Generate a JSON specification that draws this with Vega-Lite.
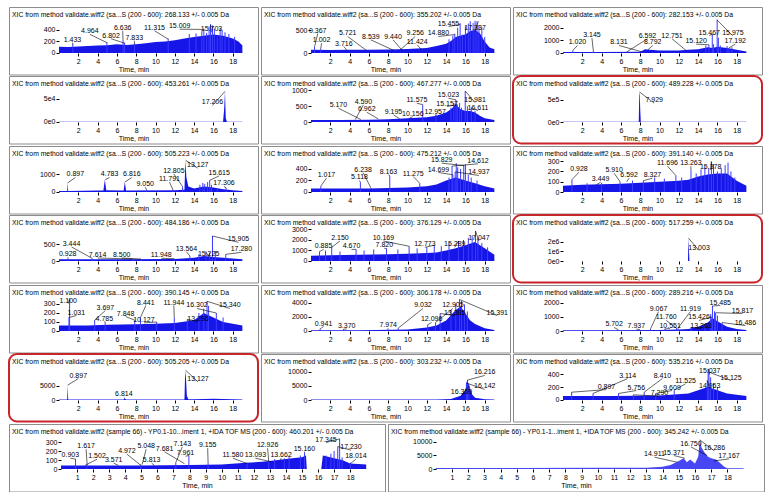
{
"$schema":"https://vega.github.io/schema/vega-lite/v6.json",
"background":"white",
"padding":{"left":8,"top":6,"right":0,"bottom":0},
"autosize":{"type":"pad"},
"config":{"font":"Liberation Sans","view":{"stroke":"#8c8c8c","strokeWidth":1},
"title":{"fontSize":6.8,"fontWeight":"normal","anchor":"start","frame":"group","offset":-12,"dx":3,"color":"black","baseline":"bottom"},
"axisX":{"domain":false,"grid":false,"tickSize":3,"tickColor":"black","labelFontSize":7,"labelColor":"black","labelPadding":1,"titleFontSize":7,"titleFontWeight":"normal","titleColor":"black","titlePadding":1,"offset":-21.5,"labelOverlap":false,"labelFlush":false},
"axisY":{"domain":false,"grid":false,"tickSize":3,"tickColor":"black","labelFontSize":7,"labelColor":"black","labelPadding":1,"offset":-50,"labelOverlap":false,"labelFlush":false},
"text":{"fontSize":7,"color":"black"},"rule":{"color":"black"}},
"spacing":0,
"vconcat":[
{"hconcat":[
{"width":249,"height":67.5,"title":"XIC from method  validate.wiff2 (sa...S (200 - 600): 268.133 +/- 0.005 Da",
"data":{"values":[{"k":"b","t":0,"v":110},{"k":"b","t":1,"v":105},{"k":"b","t":2,"v":115},{"k":"b","t":3,"v":120},{"k":"b","t":4,"v":130},{"k":"b","t":5,"v":135},{"k":"b","t":6,"v":150},{"k":"b","t":7,"v":140},{"k":"b","t":8,"v":150},{"k":"b","t":9,"v":170},{"k":"b","t":10,"v":190},{"k":"b","t":11,"v":200},{"k":"b","t":12,"v":220},{"k":"b","t":13,"v":250},{"k":"b","t":14,"v":280},{"k":"b","t":15,"v":300},{"k":"b","t":16,"v":320},{"k":"b","t":17,"v":300},{"k":"b","t":18,"v":250},{"k":"b","t":18.6,"v":200},{"k":"b","t":19,"v":130},
{"k":"s","t":1.433,"v":160},{"k":"s","t":4.964,"v":190},{"k":"s","t":6.636,"v":230},{"k":"s","t":6.802,"v":180},{"k":"s","t":7.833,"v":170},{"k":"s","t":11.315,"v":250},{"k":"s","t":13.5,"v":330},{"k":"s","t":14.2,"v":340},{"k":"s","t":14.8,"v":380},{"k":"s","t":15.009,"v":420},{"k":"s","t":15.3,"v":350},{"k":"s","t":15.55,"v":460},{"k":"s","t":15.703,"v":500},{"k":"s","t":15.9,"v":480},{"k":"s","t":16.1,"v":420},{"k":"s","t":16.4,"v":300},{"k":"s","t":16.7,"v":430},{"k":"s","t":16.9,"v":400},{"k":"s","t":17.2,"v":360},{"k":"s","t":17.6,"v":330},{"k":"s","t":18.2,"v":280},
{"k":"l","s":"1.433","t":1.433,"v":150,"lt":1.4,"lv":180},{"k":"l","s":"4.964","t":4.964,"v":180,"lt":3.2,"lv":325},{"k":"l","s":"6.636","t":6.636,"v":230,"lt":6.6,"lv":387},{"k":"l","s":"6.802","t":6.802,"v":170,"lt":5.4,"lv":248},{"k":"l","s":"7.833","t":7.833,"v":160,"lt":7.8,"lv":214},{"k":"l","s":"11.315","t":11.315,"v":240,"lt":9.9,"lv":387},{"k":"l","s":"15.009","t":15.009,"v":410,"lt":12.5,"lv":414},{"k":"l","s":"15.703","t":15.703,"v":490,"lt":15.8,"lv":359}]},
"encoding":{"x":{"field":"t","type":"quantitative","scale":{"domain":[-5.18,20.62]},"axis":{"values":[2,4,6,8,10,12,14,16,18],"title":"Time, min"}},"y":{"field":"v","type":"quantitative","scale":{"domain":[-374,800]},"axis":{"values":[0,200,400],"format":"d","title":null}}},
"layer":[
{"transform":[{"filter":"datum.k=='b'"}],"mark":{"type":"area","color":"#1616e8"},"encoding":{"y2":{"datum":0}}},
{"transform":[{"filter":"datum.k=='s'"}],"mark":{"type":"rule","color":"#3b3bff"},"encoding":{"y2":{"datum":0}}},
{"transform":[{"filter":"datum.k=='l'"}],"mark":{"type":"rule","strokeWidth":0.6},"encoding":{"x2":{"field":"lt"},"y2":{"field":"lv"}}},
{"transform":[{"filter":"datum.k=='l'"}],"mark":{"type":"text","baseline":"bottom"},"encoding":{"x":{"field":"lt","type":"quantitative"},"y":{"field":"lv","type":"quantitative"},"text":{"field":"s"}}},
{"data":{"values":[{}]},"mark":{"type":"rule","strokeDash":[1,1]},"encoding":{"x":{"datum":0},"y":{"datum":0},"y2":{"datum":480}}},
{"data":{"values":[{}]},"mark":{"type":"point","shape":"triangle-right","filled":true,"color":"#0000d0","size":20,"opacity":1},"encoding":{"x":{"datum":0},"y":{"datum":0}}}]},
{"width":249,"height":67.5,"title":"XIC from method  validate.wiff2 (sa...S (200 - 600): 355.202 +/- 0.005 Da",
"data":{"values":[{"k":"b","t":0,"v":70},{"k":"b","t":2,"v":65},{"k":"b","t":4,"v":70},{"k":"b","t":6,"v":70},{"k":"b","t":8,"v":75},{"k":"b","t":10,"v":85},{"k":"b","t":12,"v":110},{"k":"b","t":13,"v":150},{"k":"b","t":14,"v":200},{"k":"b","t":14.5,"v":260},{"k":"b","t":15,"v":350},{"k":"b","t":15.5,"v":380},{"k":"b","t":16,"v":400},{"k":"b","t":16.5,"v":480},{"k":"b","t":17,"v":500},{"k":"b","t":17.5,"v":430},{"k":"b","t":18,"v":250},{"k":"b","t":18.5,"v":120},{"k":"b","t":19,"v":80},
{"k":"s","t":0.367,"v":130},{"k":"s","t":1.002,"v":90},{"k":"s","t":14.3,"v":300},{"k":"s","t":14.7,"v":380},{"k":"s","t":14.9,"v":420},{"k":"s","t":15.2,"v":550},{"k":"s","t":15.455,"v":650},{"k":"s","t":15.7,"v":400},{"k":"s","t":16.0,"v":580},{"k":"s","t":16.3,"v":640},{"k":"s","t":16.5,"v":690},{"k":"s","t":16.8,"v":650},{"k":"s","t":17.0,"v":700},{"k":"s","t":17.2,"v":690},{"k":"s","t":17.4,"v":600},{"k":"s","t":17.7,"v":560},{"k":"s","t":18.0,"v":350},
{"k":"l","s":"0.367","t":0.367,"v":130,"lt":0.7,"lv":424},{"k":"l","s":"1.002","t":1.002,"v":90,"lt":1.1,"lv":214},{"k":"l","s":"3.716","t":3.716,"v":60,"lt":3.4,"lv":141},{"k":"l","s":"5.721","t":5.721,"v":60,"lt":3.8,"lv":359},{"k":"l","s":"8.539","t":8.539,"v":60,"lt":6.2,"lv":286},{"k":"l","s":"9.440","t":9.44,"v":60,"lt":8.5,"lv":286},{"k":"l","s":"9.256","t":9.256,"v":70,"lt":10.8,"lv":359},{"k":"l","s":"11.424","t":11.424,"v":80,"lt":11.0,"lv":178},{"k":"l","s":"14.880","t":14.88,"v":400,"lt":13.2,"lv":359},{"k":"l","s":"15.455","t":15.455,"v":620,"lt":14.25,"lv":576},{"k":"l","s":"17.337","t":17.337,"v":690,"lt":17.0,"lv":468}]},
"encoding":{"x":{"field":"t","type":"quantitative","scale":{"domain":[-5.18,20.62]},"axis":{"values":[2,4,6,8,10,12,14,16,18],"title":"Time, min"}},"y":{"field":"v","type":"quantitative","scale":{"domain":[-467,1000]},"axis":{"values":[0,500],"format":"d","title":null}}},
"layer":[
{"transform":[{"filter":"datum.k=='b'"}],"mark":{"type":"area","color":"#1616e8"},"encoding":{"y2":{"datum":0}}},
{"transform":[{"filter":"datum.k=='s'"}],"mark":{"type":"rule","color":"#3b3bff"},"encoding":{"y2":{"datum":0}}},
{"transform":[{"filter":"datum.k=='l'"}],"mark":{"type":"rule","strokeWidth":0.6},"encoding":{"x2":{"field":"lt"},"y2":{"field":"lv"}}},
{"transform":[{"filter":"datum.k=='l'"}],"mark":{"type":"text","baseline":"bottom"},"encoding":{"x":{"field":"lt","type":"quantitative"},"y":{"field":"lv","type":"quantitative"},"text":{"field":"s"}}},
{"data":{"values":[{}]},"mark":{"type":"rule","strokeDash":[1,1]},"encoding":{"x":{"datum":0},"y":{"datum":0},"y2":{"datum":700}}},
{"data":{"values":[{}]},"mark":{"type":"point","shape":"triangle-right","filled":true,"color":"#0000d0","size":20,"opacity":1},"encoding":{"x":{"datum":0},"y":{"datum":0}}}]},
{"width":249,"height":67.5,"title":"XIC from method  validate.wiff2 (sa...S (200 - 600): 282.153 +/- 0.005 Da",
"data":{"values":[{"k":"b","t":0,"v":80},{"k":"b","t":4,"v":80},{"k":"b","t":8,"v":100},{"k":"b","t":8.5,"v":300},{"k":"b","t":9,"v":250},{"k":"b","t":10,"v":200},{"k":"b","t":12,"v":200},{"k":"b","t":13,"v":250},{"k":"b","t":14,"v":300},{"k":"b","t":15,"v":450},{"k":"b","t":15.5,"v":400},{"k":"b","t":16,"v":500},{"k":"b","t":17,"v":400},{"k":"b","t":18,"v":250},{"k":"b","t":19,"v":120},
{"k":"s","t":1.02,"v":200},{"k":"s","t":3.145,"v":150},{"k":"s","t":14.8,"v":600},{"k":"s","t":15.12,"v":650},{"k":"s","t":15.467,"v":1500},{"k":"s","t":15.6,"v":700},{"k":"s","t":15.975,"v":2650},{"k":"s","t":16.1,"v":1200},{"k":"s","t":16.3,"v":600},{"k":"s","t":17.0,"v":550},{"k":"s","t":17.192,"v":400},{"k":"s","t":17.5,"v":450},
{"k":"l","s":"1.020","t":1.02,"v":200,"lt":1.5,"lv":594},{"k":"l","s":"3.145","t":3.145,"v":150,"lt":3.0,"lv":1170},{"k":"l","s":"8.131","t":8.131,"v":100,"lt":5.8,"lv":594},{"k":"l","s":"6.592","t":6.592,"v":80,"lt":8.75,"lv":1120},{"k":"l","s":"8.792","t":8.792,"v":250,"lt":9.3,"lv":594},{"k":"l","s":"12.751","t":12.751,"v":200,"lt":11.3,"lv":1120},{"k":"l","s":"15.120","t":15.12,"v":650,"lt":13.8,"lv":700},{"k":"l","s":"15.467","t":15.467,"v":1500,"lt":15.15,"lv":1350},{"k":"l","s":"15.975","t":15.975,"v":2600,"lt":17.6,"lv":1350},{"k":"l","s":"17.192","t":17.192,"v":400,"lt":17.85,"lv":700}]},
"encoding":{"x":{"field":"t","type":"quantitative","scale":{"domain":[-5.18,20.62]},"axis":{"values":[2,4,6,8,10,12,14,16,18],"title":"Time, min"}},"y":{"field":"v","type":"quantitative","scale":{"domain":[-1697,3630]},"axis":{"values":[0,1000,2000],"format":"d","title":null}}},
"layer":[
{"transform":[{"filter":"datum.k=='b'"}],"mark":{"type":"area","color":"#1616e8"},"encoding":{"y2":{"datum":0}}},
{"transform":[{"filter":"datum.k=='s'"}],"mark":{"type":"rule","color":"#3b3bff"},"encoding":{"y2":{"datum":0}}},
{"transform":[{"filter":"datum.k=='l'"}],"mark":{"type":"rule","strokeWidth":0.6},"encoding":{"x2":{"field":"lt"},"y2":{"field":"lv"}}},
{"transform":[{"filter":"datum.k=='l'"}],"mark":{"type":"text","baseline":"bottom"},"encoding":{"x":{"field":"lt","type":"quantitative"},"y":{"field":"lv","type":"quantitative"},"text":{"field":"s"}}},
{"data":{"values":[{}]},"mark":{"type":"rule","strokeDash":[1,1]},"encoding":{"x":{"datum":0},"y":{"datum":0},"y2":{"datum":2300}}},
{"data":{"values":[{}]},"mark":{"type":"point","shape":"triangle-right","filled":true,"color":"#0000d0","size":20,"opacity":1},"encoding":{"x":{"datum":0},"y":{"datum":0}}}]}
],"spacing":3,"bounds":"flush"},
{"hconcat":[
{"width":249,"height":67.5,"title":"XIC from method  validate.wiff2 (sa...S (200 - 600): 453.261 +/- 0.005 Da",
"data":{"values":[{"k":"b","t":0,"v":600},{"k":"b","t":17.0,"v":600},{"k":"b","t":17.12,"v":30000},{"k":"b","t":17.2,"v":66700},{"k":"b","t":17.28,"v":8000},{"k":"b","t":17.4,"v":800},{"k":"b","t":19,"v":600},
{"k":"l","s":"17.206","t":17.206,"v":66700,"lt":15.9,"lv":36000}]},
"encoding":{"x":{"field":"t","type":"quantitative","scale":{"domain":[-5.18,20.62]},"axis":{"values":[2,4,6,8,10,12,14,16,18],"title":"Time, min"}},"y":{"field":"v","type":"quantitative","scale":{"domain":[-46740,100000]},"axis":{"values":[0,50000],"labelExpr":"replace(format(datum.value,'.0e'),'+','')","title":null}}},
"layer":[
{"transform":[{"filter":"datum.k=='b'"}],"mark":{"type":"area","color":"#1616e8"},"encoding":{"y2":{"datum":0}}},
{"transform":[{"filter":"datum.k=='l'"}],"mark":{"type":"rule","strokeWidth":0.6},"encoding":{"x2":{"field":"lt"},"y2":{"field":"lv"}}},
{"transform":[{"filter":"datum.k=='l'"}],"mark":{"type":"text","baseline":"bottom"},"encoding":{"x":{"field":"lt","type":"quantitative"},"y":{"field":"lv","type":"quantitative"},"text":{"field":"s"}}},
{"data":{"values":[{}]},"mark":{"type":"rule","strokeDash":[1,1]},"encoding":{"x":{"datum":0},"y":{"datum":0},"y2":{"datum":70000}}},
{"data":{"values":[{}]},"mark":{"type":"point","shape":"triangle-right","filled":true,"color":"#0000d0","size":20,"opacity":1},"encoding":{"x":{"datum":0},"y":{"datum":0}}}]},
{"width":249,"height":67.5,"title":"XIC from method  validate.wiff2 (sa...S (200 - 600): 467.277 +/- 0.005 Da",
"data":{"values":[{"k":"b","t":0,"v":60},{"k":"b","t":3,"v":60},{"k":"b","t":6,"v":70},{"k":"b","t":8,"v":90},{"k":"b","t":10,"v":120},{"k":"b","t":12,"v":150},{"k":"b","t":13,"v":200},{"k":"b","t":14,"v":300},{"k":"b","t":14.5,"v":400},{"k":"b","t":15,"v":550},{"k":"b","t":15.5,"v":400},{"k":"b","t":16,"v":350},{"k":"b","t":16.5,"v":350},{"k":"b","t":17,"v":300},{"k":"b","t":17.5,"v":200},{"k":"b","t":18,"v":120},{"k":"b","t":19,"v":60},
{"k":"s","t":11.575,"v":550},{"k":"s","t":12.957,"v":250},{"k":"s","t":14.5,"v":450},{"k":"s","t":14.8,"v":600},{"k":"s","t":15.023,"v":700},{"k":"s","t":15.157,"v":550},{"k":"s","t":15.4,"v":600},{"k":"s","t":15.6,"v":450},{"k":"s","t":15.981,"v":980},{"k":"s","t":16.2,"v":500},{"k":"s","t":16.611,"v":450},{"k":"s","t":17.0,"v":350},
{"k":"l","s":"5.170","t":5.17,"v":80,"lt":2.84,"lv":436},{"k":"l","s":"4.590","t":4.59,"v":80,"lt":5.43,"lv":541},{"k":"l","s":"6.962","t":6.962,"v":100,"lt":5.78,"lv":310},{"k":"l","s":"9.195","t":9.195,"v":100,"lt":8.55,"lv":226},{"k":"l","s":"10.156","t":10.156,"v":110,"lt":10.55,"lv":173},{"k":"l","s":"11.575","t":11.575,"v":550,"lt":10.97,"lv":593},{"k":"l","s":"12.957","t":12.957,"v":200,"lt":12.87,"lv":226},{"k":"l","s":"15.157","t":15.157,"v":550,"lt":14.1,"lv":490},{"k":"l","s":"15.023","t":15.023,"v":700,"lt":14.25,"lv":751},{"k":"l","s":"15.981","t":15.981,"v":980,"lt":17.0,"lv":615},{"k":"l","s":"16.611","t":16.611,"v":450,"lt":17.3,"lv":362}]},
"encoding":{"x":{"field":"t","type":"quantitative","scale":{"domain":[-5.18,20.62]},"axis":{"values":[2,4,6,8,10,12,14,16,18],"title":"Time, min"}},"y":{"field":"v","type":"quantitative","scale":{"domain":[-680,1455]},"axis":{"values":[0,500,1000],"format":"d","title":null}}},
"layer":[
{"transform":[{"filter":"datum.k=='b'"}],"mark":{"type":"area","color":"#1616e8"},"encoding":{"y2":{"datum":0}}},
{"transform":[{"filter":"datum.k=='s'"}],"mark":{"type":"rule","color":"#3b3bff"},"encoding":{"y2":{"datum":0}}},
{"transform":[{"filter":"datum.k=='l'"}],"mark":{"type":"rule","strokeWidth":0.6},"encoding":{"x2":{"field":"lt"},"y2":{"field":"lv"}}},
{"transform":[{"filter":"datum.k=='l'"}],"mark":{"type":"text","baseline":"bottom"},"encoding":{"x":{"field":"lt","type":"quantitative"},"y":{"field":"lv","type":"quantitative"},"text":{"field":"s"}}},
{"data":{"values":[{}]},"mark":{"type":"rule","strokeDash":[1,1]},"encoding":{"x":{"datum":0},"y":{"datum":0},"y2":{"datum":1050}}},
{"data":{"values":[{}]},"mark":{"type":"point","shape":"triangle-right","filled":true,"color":"#0000d0","size":20,"opacity":1},"encoding":{"x":{"datum":0},"y":{"datum":0}}}]},
{"width":249,"height":67.5,"title":"XIC from method  validate.wiff2 (sa...S (200 - 600): 489.228 +/- 0.005 Da","view":{"stroke":"#c8252b","strokeWidth":2,"cornerRadius":8},
"data":{"values":[{"k":"b","t":0,"v":3000},{"k":"b","t":7.85,"v":3000},{"k":"b","t":7.9,"v":600000},{"k":"b","t":7.95,"v":672000},{"k":"b","t":8.0,"v":300000},{"k":"b","t":8.06,"v":3000},{"k":"b","t":19,"v":3000},
{"k":"l","s":"7.929","t":7.93,"v":672000,"lt":9.45,"lv":422000}]},
"encoding":{"x":{"field":"t","type":"quantitative","scale":{"domain":[-5.18,20.62]},"axis":{"values":[2,4,6,8,10,12,14,16,18],"title":"Time, min"}},"y":{"field":"v","type":"quantitative","scale":{"domain":[-481400,1030000]},"axis":{"values":[0,500000],"labelExpr":"replace(format(datum.value,'.0e'),'+','')","title":null}}},
"layer":[
{"transform":[{"filter":"datum.k=='b'"}],"mark":{"type":"area","color":"#1616e8"},"encoding":{"y2":{"datum":0}}},
{"transform":[{"filter":"datum.k=='l'"}],"mark":{"type":"rule","strokeWidth":0.6},"encoding":{"x2":{"field":"lt"},"y2":{"field":"lv"}}},
{"transform":[{"filter":"datum.k=='l'"}],"mark":{"type":"text","baseline":"bottom"},"encoding":{"x":{"field":"lt","type":"quantitative"},"y":{"field":"lv","type":"quantitative"},"text":{"field":"s"}}},
{"data":{"values":[{}]},"mark":{"type":"rule","strokeDash":[1,1]},"encoding":{"x":{"datum":0},"y":{"datum":0},"y2":{"datum":700000}}},
{"data":{"values":[{}]},"mark":{"type":"point","shape":"triangle-right","filled":true,"color":"#0000d0","size":20,"opacity":1},"encoding":{"x":{"datum":0},"y":{"datum":0}}}]}
],"spacing":3,"bounds":"flush"},
{"hconcat":[
{"width":249,"height":67.5,"title":"XIC from method  validate.wiff2 (sa...S (200 - 600): 505.223 +/- 0.005 Da",
"data":{"values":[{"k":"b","t":0,"v":50},{"k":"b","t":0.85,"v":50},{"k":"b","t":0.9,"v":500},{"k":"b","t":0.95,"v":50},{"k":"b","t":4,"v":80},{"k":"b","t":4.6,"v":90},{"k":"b","t":4.75,"v":680},{"k":"b","t":4.9,"v":100},{"k":"b","t":6.7,"v":80},{"k":"b","t":6.82,"v":550},{"k":"b","t":6.95,"v":80},{"k":"b","t":12,"v":100},{"k":"b","t":13.0,"v":120},{"k":"b","t":13.1,"v":1760},{"k":"b","t":13.2,"v":800},{"k":"b","t":13.4,"v":300},{"k":"b","t":14,"v":200},{"k":"b","t":15,"v":300},{"k":"b","t":16,"v":250},{"k":"b","t":17,"v":150},{"k":"b","t":18,"v":100},{"k":"b","t":19,"v":60},
{"k":"s","t":9.05,"v":150},{"k":"s","t":11.791,"v":150},{"k":"s","t":12.805,"v":300},{"k":"s","t":14.6,"v":400},{"k":"s","t":14.9,"v":500},{"k":"s","t":15.1,"v":450},{"k":"s","t":15.4,"v":550},{"k":"s","t":15.615,"v":650},{"k":"s","t":15.8,"v":400},{"k":"s","t":16.4,"v":200},{"k":"s","t":17.306,"v":230},
{"k":"l","s":"0.897","t":0.897,"v":500,"lt":1.69,"lv":806},{"k":"l","s":"4.783","t":4.783,"v":680,"lt":5.24,"lv":806},{"k":"l","s":"6.816","t":6.816,"v":550,"lt":7.55,"lv":806},{"k":"l","s":"9.050","t":9.05,"v":150,"lt":8.93,"lv":269},{"k":"l","s":"11.791","t":11.791,"v":150,"lt":11.45,"lv":546},{"k":"l","s":"12.805","t":12.805,"v":300,"lt":11.9,"lv":1006},{"k":"l","s":"13.127","t":13.127,"v":1760,"lt":14.38,"lv":1323},{"k":"l","s":"15.615","t":15.615,"v":650,"lt":16.6,"lv":896},{"k":"l","s":"17.306","t":17.306,"v":230,"lt":17.1,"lv":306}]},
"encoding":{"x":{"field":"t","type":"quantitative","scale":{"domain":[-5.18,20.62]},"axis":{"values":[2,4,6,8,10,12,14,16,18],"title":"Time, min"}},"y":{"field":"v","type":"quantitative","scale":{"domain":[-1195,2556]},"axis":{"values":[0,1000],"format":"d","title":null}}},
"layer":[
{"transform":[{"filter":"datum.k=='b'"}],"mark":{"type":"area","color":"#1616e8"},"encoding":{"y2":{"datum":0}}},
{"transform":[{"filter":"datum.k=='s'"}],"mark":{"type":"rule","color":"#3b3bff"},"encoding":{"y2":{"datum":0}}},
{"transform":[{"filter":"datum.k=='l'"}],"mark":{"type":"rule","strokeWidth":0.6},"encoding":{"x2":{"field":"lt"},"y2":{"field":"lv"}}},
{"transform":[{"filter":"datum.k=='l'"}],"mark":{"type":"text","baseline":"bottom"},"encoding":{"x":{"field":"lt","type":"quantitative"},"y":{"field":"lv","type":"quantitative"},"text":{"field":"s"}}},
{"data":{"values":[{}]},"mark":{"type":"rule","strokeDash":[1,1]},"encoding":{"x":{"datum":0},"y":{"datum":0},"y2":{"datum":1800}}},
{"data":{"values":[{}]},"mark":{"type":"point","shape":"triangle-right","filled":true,"color":"#0000d0","size":20,"opacity":1},"encoding":{"x":{"datum":0},"y":{"datum":0}}}]},
{"width":249,"height":67.5,"title":"XIC from method  validate.wiff2 (sa...S (200 - 600): 475.212 +/- 0.005 Da",
"data":{"values":[{"k":"b","t":0,"v":60},{"k":"b","t":3,"v":60},{"k":"b","t":6,"v":60},{"k":"b","t":8,"v":70},{"k":"b","t":10,"v":80},{"k":"b","t":12,"v":100},{"k":"b","t":13,"v":130},{"k":"b","t":14,"v":200},{"k":"b","t":15,"v":250},{"k":"b","t":16,"v":200},{"k":"b","t":17,"v":150},{"k":"b","t":18,"v":100},{"k":"b","t":19,"v":60},
{"k":"s","t":1.017,"v":100},{"k":"s","t":5.118,"v":170},{"k":"s","t":8.163,"v":285},{"k":"s","t":11.275,"v":150},{"k":"s","t":14.3,"v":250},{"k":"s","t":14.612,"v":450},{"k":"s","t":14.699,"v":300},{"k":"s","t":14.937,"v":350},{"k":"s","t":15.05,"v":500},{"k":"s","t":15.2,"v":430},{"k":"s","t":15.5,"v":400},{"k":"s","t":15.829,"v":470},{"k":"s","t":16.0,"v":480},{"k":"s","t":16.3,"v":300},{"k":"s","t":16.6,"v":250},{"k":"s","t":17.2,"v":200},
{"k":"l","s":"1.017","t":1.017,"v":100,"lt":1.6,"lv":241},{"k":"l","s":"6.238","t":6.238,"v":60,"lt":5.4,"lv":339},{"k":"l","s":"5.118","t":5.118,"v":170,"lt":5.02,"lv":200},{"k":"l","s":"8.163","t":8.163,"v":285,"lt":8.03,"lv":295},{"k":"l","s":"11.275","t":11.275,"v":150,"lt":10.6,"lv":269},{"k":"l","s":"15.829","t":15.829,"v":460,"lt":13.55,"lv":501},{"k":"l","s":"14.612","t":14.612,"v":450,"lt":17.3,"lv":490},{"k":"l","s":"14.699","t":14.699,"v":300,"lt":13.2,"lv":339},{"k":"l","s":"14.937","t":14.937,"v":350,"lt":17.4,"lv":287}]},
"encoding":{"x":{"field":"t","type":"quantitative","scale":{"domain":[-5.18,20.62]},"axis":{"values":[2,4,6,8,10,12,14,16,18],"title":"Time, min"}},"y":{"field":"v","type":"quantitative","scale":{"domain":[-374,800]},"axis":{"values":[0,200,400],"format":"d","title":null}}},
"layer":[
{"transform":[{"filter":"datum.k=='b'"}],"mark":{"type":"area","color":"#1616e8"},"encoding":{"y2":{"datum":0}}},
{"transform":[{"filter":"datum.k=='s'"}],"mark":{"type":"rule","color":"#3b3bff"},"encoding":{"y2":{"datum":0}}},
{"transform":[{"filter":"datum.k=='l'"}],"mark":{"type":"rule","strokeWidth":0.6},"encoding":{"x2":{"field":"lt"},"y2":{"field":"lv"}}},
{"transform":[{"filter":"datum.k=='l'"}],"mark":{"type":"text","baseline":"bottom"},"encoding":{"x":{"field":"lt","type":"quantitative"},"y":{"field":"lv","type":"quantitative"},"text":{"field":"s"}}},
{"data":{"values":[{}]},"mark":{"type":"rule","strokeDash":[1,1]},"encoding":{"x":{"datum":0},"y":{"datum":0},"y2":{"datum":520}}},
{"data":{"values":[{}]},"mark":{"type":"point","shape":"triangle-right","filled":true,"color":"#0000d0","size":20,"opacity":1},"encoding":{"x":{"datum":0},"y":{"datum":0}}}]},
{"width":249,"height":67.5,"title":"XIC from method  validate.wiff2 (sa...S (200 - 600): 391.140 +/- 0.005 Da",
"data":{"values":[{"k":"b","t":0,"v":60},{"k":"b","t":2,"v":70},{"k":"b","t":4,"v":75},{"k":"b","t":6,"v":80},{"k":"b","t":8,"v":90},{"k":"b","t":10,"v":100},{"k":"b","t":12,"v":110},{"k":"b","t":13,"v":120},{"k":"b","t":14,"v":150},{"k":"b","t":15,"v":170},{"k":"b","t":16,"v":180},{"k":"b","t":17,"v":180},{"k":"b","t":18,"v":110},{"k":"b","t":19,"v":60},
{"k":"s","t":0.928,"v":120},{"k":"s","t":2.5,"v":85},{"k":"s","t":4,"v":90},{"k":"s","t":5.91,"v":100},{"k":"s","t":7.2,"v":110},{"k":"s","t":8.327,"v":110},{"k":"s","t":9.5,"v":140},{"k":"s","t":10.5,"v":130},{"k":"s","t":11.696,"v":160},{"k":"s","t":12.3,"v":140},{"k":"s","t":13.263,"v":210},{"k":"s","t":13.8,"v":180},{"k":"s","t":14.3,"v":220},{"k":"s","t":14.7,"v":250},{"k":"s","t":15.1,"v":230},{"k":"s","t":15.378,"v":295},{"k":"s","t":15.6,"v":270},{"k":"s","t":16.0,"v":200},{"k":"s","t":16.4,"v":230},{"k":"s","t":16.8,"v":260},{"k":"s","t":17.1,"v":285},{"k":"s","t":17.4,"v":200},{"k":"s","t":17.8,"v":140},
{"k":"l","s":"0.928","t":0.928,"v":120,"lt":1.66,"lv":192},{"k":"l","s":"3.449","t":3.449,"v":70,"lt":3.9,"lv":95},{"k":"l","s":"5.910","t":5.91,"v":100,"lt":5.3,"lv":182},{"k":"l","s":"6.592","t":6.592,"v":100,"lt":6.85,"lv":134},{"k":"l","s":"8.327","t":8.327,"v":110,"lt":9.27,"lv":134},{"k":"l","s":"11.696","t":11.696,"v":160,"lt":10.83,"lv":250},{"k":"l","s":"13.263","t":13.263,"v":210,"lt":13.25,"lv":250},{"k":"l","s":"15.378","t":15.378,"v":295,"lt":15.3,"lv":215}]},
"encoding":{"x":{"field":"t","type":"quantitative","scale":{"domain":[-5.18,20.62]},"axis":{"values":[2,4,6,8,10,12,14,16,18],"title":"Time, min"}},"y":{"field":"v","type":"quantitative","scale":{"domain":[-208,446]},"axis":{"values":[0,100,200,300],"format":"d","title":null}}},
"layer":[
{"transform":[{"filter":"datum.k=='b'"}],"mark":{"type":"area","color":"#1616e8"},"encoding":{"y2":{"datum":0}}},
{"transform":[{"filter":"datum.k=='s'"}],"mark":{"type":"rule","color":"#3b3bff"},"encoding":{"y2":{"datum":0}}},
{"transform":[{"filter":"datum.k=='l'"}],"mark":{"type":"rule","strokeWidth":0.6},"encoding":{"x2":{"field":"lt"},"y2":{"field":"lv"}}},
{"transform":[{"filter":"datum.k=='l'"}],"mark":{"type":"text","baseline":"bottom"},"encoding":{"x":{"field":"lt","type":"quantitative"},"y":{"field":"lv","type":"quantitative"},"text":{"field":"s"}}},
{"data":{"values":[{}]},"mark":{"type":"rule","strokeDash":[1,1]},"encoding":{"x":{"datum":0},"y":{"datum":0},"y2":{"datum":310}}},
{"data":{"values":[{}]},"mark":{"type":"point","shape":"triangle-right","filled":true,"color":"#0000d0","size":20,"opacity":1},"encoding":{"x":{"datum":0},"y":{"datum":0}}}]}
],"spacing":3,"bounds":"flush"},
{"hconcat":[
{"width":249,"height":67.5,"title":"XIC from method  validate.wiff2 (sa...S (200 - 600): 484.186 +/- 0.005 Da",
"data":{"values":[{"k":"b","t":0,"v":50},{"k":"b","t":6,"v":50},{"k":"b","t":12,"v":60},{"k":"b","t":14,"v":100},{"k":"b","t":15,"v":150},{"k":"b","t":16,"v":120},{"k":"b","t":17,"v":100},{"k":"b","t":19,"v":50},
{"k":"s","t":0.928,"v":80},{"k":"s","t":3.444,"v":80},{"k":"s","t":7.614,"v":60},{"k":"s","t":8.5,"v":60},{"k":"s","t":11.948,"v":70},{"k":"s","t":13.564,"v":150},{"k":"s","t":14.5,"v":200},{"k":"s","t":15.225,"v":280},{"k":"s","t":15.6,"v":250},{"k":"s","t":15.905,"v":750},{"k":"s","t":16.2,"v":300},{"k":"s","t":17.28,"v":200},
{"k":"l","s":"3.444","t":3.444,"v":80,"lt":1.3,"lv":420},{"k":"l","s":"0.928","t":0.928,"v":80,"lt":0.9,"lv":110},{"k":"l","s":"7.614","t":7.614,"v":60,"lt":4.0,"lv":90},{"k":"l","s":"8.500","t":8.5,"v":60,"lt":6.5,"lv":90},{"k":"l","s":"11.948","t":11.948,"v":70,"lt":10.6,"lv":80},{"k":"l","s":"13.564","t":13.564,"v":150,"lt":13.2,"lv":280},{"k":"l","s":"15.225","t":15.225,"v":280,"lt":15.5,"lv":130},{"k":"l","s":"15.905","t":15.905,"v":750,"lt":18.6,"lv":560},{"k":"l","s":"17.280","t":17.28,"v":200,"lt":18.9,"lv":260}]},
"encoding":{"x":{"field":"t","type":"quantitative","scale":{"domain":[-5.18,20.62]},"axis":{"values":[2,4,6,8,10,12,14,16,18],"title":"Time, min"}},"y":{"field":"v","type":"quantitative","scale":{"domain":[-645,1380]},"axis":{"values":[0,500],"format":"d","title":null}}},
"layer":[
{"transform":[{"filter":"datum.k=='b'"}],"mark":{"type":"area","color":"#1616e8"},"encoding":{"y2":{"datum":0}}},
{"transform":[{"filter":"datum.k=='s'"}],"mark":{"type":"rule","color":"#3b3bff"},"encoding":{"y2":{"datum":0}}},
{"transform":[{"filter":"datum.k=='l'"}],"mark":{"type":"rule","strokeWidth":0.6},"encoding":{"x2":{"field":"lt"},"y2":{"field":"lv"}}},
{"transform":[{"filter":"datum.k=='l'"}],"mark":{"type":"text","baseline":"bottom"},"encoding":{"x":{"field":"lt","type":"quantitative"},"y":{"field":"lv","type":"quantitative"},"text":{"field":"s"}}},
{"data":{"values":[{}]},"mark":{"type":"rule","strokeDash":[1,1]},"encoding":{"x":{"datum":0},"y":{"datum":0},"y2":{"datum":750}}},
{"data":{"values":[{}]},"mark":{"type":"point","shape":"triangle-right","filled":true,"color":"#0000d0","size":20,"opacity":1},"encoding":{"x":{"datum":0},"y":{"datum":0}}}]},
{"width":249,"height":67.5,"title":"XIC from method  validate.wiff2 (sa...S (200 - 600): 376.129 +/- 0.005 Da",
"data":{"values":[{"k":"b","t":0,"v":500},{"k":"b","t":2,"v":550},{"k":"b","t":5,"v":600},{"k":"b","t":8,"v":650},{"k":"b","t":10,"v":700},{"k":"b","t":12,"v":750},{"k":"b","t":13,"v":800},{"k":"b","t":14,"v":1000},{"k":"b","t":15,"v":1200},{"k":"b","t":16,"v":1500},{"k":"b","t":17,"v":1800},{"k":"b","t":17.5,"v":1500},{"k":"b","t":18,"v":1200},{"k":"b","t":19,"v":600},
{"k":"s","t":0.885,"v":900},{"k":"s","t":1.5,"v":1000},{"k":"s","t":2.15,"v":1300},{"k":"s","t":3,"v":900},{"k":"s","t":4.67,"v":1100},{"k":"s","t":5.5,"v":1000},{"k":"s","t":6.5,"v":1100},{"k":"s","t":7.82,"v":1200},{"k":"s","t":9,"v":1100},{"k":"s","t":10.169,"v":1400},{"k":"s","t":11,"v":1200},{"k":"s","t":12,"v":1300},{"k":"s","t":12.773,"v":1500},{"k":"s","t":13.5,"v":1400},{"k":"s","t":14.3,"v":1700},{"k":"s","t":15.289,"v":1900},{"k":"s","t":15.8,"v":2000},{"k":"s","t":16.3,"v":2200},{"k":"s","t":16.7,"v":2400},{"k":"s","t":17.047,"v":2850},{"k":"s","t":17.3,"v":2200},{"k":"s","t":17.7,"v":1700},{"k":"s","t":18.3,"v":1300},
{"k":"l","s":"0.885","t":0.885,"v":900,"lt":1.3,"lv":1100},{"k":"l","s":"2.150","t":2.15,"v":1300,"lt":3.0,"lv":1900},{"k":"l","s":"4.670","t":4.67,"v":1100,"lt":4.2,"lv":1100},{"k":"l","s":"10.169","t":10.169,"v":1400,"lt":7.5,"lv":1900},{"k":"l","s":"7.820","t":7.82,"v":1200,"lt":7.6,"lv":1200},{"k":"l","s":"12.773","t":12.773,"v":1500,"lt":11.8,"lv":1300},{"k":"l","s":"15.289","t":15.289,"v":1900,"lt":14.9,"lv":1300},{"k":"l","s":"17.047","t":17.047,"v":2850,"lt":17.4,"lv":1900}]},
"encoding":{"x":{"field":"t","type":"quantitative","scale":{"domain":[-5.18,20.62]},"axis":{"values":[2,4,6,8,10,12,14,16,18],"title":"Time, min"}},"y":{"field":"v","type":"quantitative","scale":{"domain":[-2043,4370]},"axis":{"values":[0,1000,2000,3000],"format":"d","title":null}}},
"layer":[
{"transform":[{"filter":"datum.k=='b'"}],"mark":{"type":"area","color":"#1616e8"},"encoding":{"y2":{"datum":0}}},
{"transform":[{"filter":"datum.k=='s'"}],"mark":{"type":"rule","color":"#3b3bff"},"encoding":{"y2":{"datum":0}}},
{"transform":[{"filter":"datum.k=='l'"}],"mark":{"type":"rule","strokeWidth":0.6},"encoding":{"x2":{"field":"lt"},"y2":{"field":"lv"}}},
{"transform":[{"filter":"datum.k=='l'"}],"mark":{"type":"text","baseline":"bottom"},"encoding":{"x":{"field":"lt","type":"quantitative"},"y":{"field":"lv","type":"quantitative"},"text":{"field":"s"}}},
{"data":{"values":[{}]},"mark":{"type":"rule","strokeDash":[1,1]},"encoding":{"x":{"datum":0},"y":{"datum":0},"y2":{"datum":3200}}},
{"data":{"values":[{}]},"mark":{"type":"point","shape":"triangle-right","filled":true,"color":"#0000d0","size":20,"opacity":1},"encoding":{"x":{"datum":0},"y":{"datum":0}}}]},
{"width":249,"height":67.5,"title":"XIC from method  validate.wiff2 (sa...S (200 - 600): 517.259 +/- 0.005 Da","view":{"stroke":"#c8252b","strokeWidth":2,"cornerRadius":8},
"data":{"values":[{"k":"b","t":0,"v":8000},{"k":"b","t":12.95,"v":8000},{"k":"b","t":13.0,"v":2400000},{"k":"b","t":13.05,"v":1200000},{"k":"b","t":13.1,"v":8000},{"k":"b","t":19,"v":8000},
{"k":"l","s":"13.003","t":13.003,"v":2400000,"lt":14.1,"lv":1100000}]},
"encoding":{"x":{"field":"t","type":"quantitative","scale":{"domain":[-5.18,20.62]},"axis":{"values":[2,4,6,8,10,12,14,16,18],"title":"Time, min"}},"y":{"field":"v","type":"quantitative","scale":{"domain":[-2262000,4840000]},"axis":{"values":[0,1000000,2000000],"labelExpr":"replace(format(datum.value,'.0e'),'+','')","title":null}}},
"layer":[
{"transform":[{"filter":"datum.k=='b'"}],"mark":{"type":"area","color":"#1616e8"},"encoding":{"y2":{"datum":0}}},
{"transform":[{"filter":"datum.k=='l'"}],"mark":{"type":"rule","strokeWidth":0.6},"encoding":{"x2":{"field":"lt"},"y2":{"field":"lv"}}},
{"transform":[{"filter":"datum.k=='l'"}],"mark":{"type":"text","baseline":"bottom"},"encoding":{"x":{"field":"lt","type":"quantitative"},"y":{"field":"lv","type":"quantitative"},"text":{"field":"s"}}},
{"data":{"values":[{}]},"mark":{"type":"rule","strokeDash":[1,1]},"encoding":{"x":{"datum":0},"y":{"datum":0},"y2":{"datum":2500000}}},
{"data":{"values":[{}]},"mark":{"type":"point","shape":"triangle-right","filled":true,"color":"#0000d0","size":20,"opacity":1},"encoding":{"x":{"datum":0},"y":{"datum":0}}}]}
],"spacing":3,"bounds":"flush"},
{"hconcat":[
{"width":249,"height":67.5,"title":"XIC from method  validate.wiff2 (sa...S (200 - 600): 390.145 +/- 0.005 Da",
"data":{"values":[{"k":"b","t":0,"v":60},{"k":"b","t":3,"v":60},{"k":"b","t":5,"v":70},{"k":"b","t":8,"v":75},{"k":"b","t":10,"v":80},{"k":"b","t":12,"v":90},{"k":"b","t":14,"v":120},{"k":"b","t":15,"v":200},{"k":"b","t":16,"v":150},{"k":"b","t":17,"v":100},{"k":"b","t":18,"v":80},{"k":"b","t":19,"v":60},
{"k":"s","t":1.1,"v":360},{"k":"s","t":1.031,"v":150},{"k":"s","t":3.697,"v":120},{"k":"s","t":4.785,"v":100},{"k":"s","t":7.848,"v":120},{"k":"s","t":8.441,"v":150},{"k":"s","t":10.127,"v":100},{"k":"s","t":11.944,"v":150},{"k":"s","t":13.296,"v":130},{"k":"s","t":14.5,"v":200},{"k":"s","t":15.0,"v":250},{"k":"s","t":15.34,"v":330},{"k":"s","t":15.5,"v":280},{"k":"s","t":16.302,"v":200},{"k":"s","t":17.0,"v":150},
{"k":"l","s":"1.100","t":1.1,"v":360,"lt":0.96,"lv":305},{"k":"l","s":"1.031","t":1.031,"v":150,"lt":1.8,"lv":172},{"k":"l","s":"3.697","t":3.697,"v":120,"lt":4.8,"lv":227},{"k":"l","s":"4.785","t":4.785,"v":100,"lt":4.7,"lv":105},{"k":"l","s":"7.848","t":7.848,"v":120,"lt":6.9,"lv":161},{"k":"l","s":"8.441","t":8.441,"v":150,"lt":9.0,"lv":283},{"k":"l","s":"10.127","t":10.127,"v":100,"lt":8.8,"lv":90},{"k":"l","s":"11.944","t":11.944,"v":150,"lt":11.9,"lv":283},{"k":"l","s":"13.296","t":13.296,"v":130,"lt":14.4,"lv":105},{"k":"l","s":"16.302","t":16.302,"v":200,"lt":14.3,"lv":250},{"k":"l","s":"15.340","t":15.34,"v":330,"lt":17.7,"lv":250}]},
"encoding":{"x":{"field":"t","type":"quantitative","scale":{"domain":[-5.18,20.62]},"axis":{"values":[2,4,6,8,10,12,14,16,18],"title":"Time, min"}},"y":{"field":"v","type":"quantitative","scale":{"domain":[-239,511]},"axis":{"values":[0,100,200,300],"format":"d","title":null}}},
"layer":[
{"transform":[{"filter":"datum.k=='b'"}],"mark":{"type":"area","color":"#1616e8"},"encoding":{"y2":{"datum":0}}},
{"transform":[{"filter":"datum.k=='s'"}],"mark":{"type":"rule","color":"#3b3bff"},"encoding":{"y2":{"datum":0}}},
{"transform":[{"filter":"datum.k=='l'"}],"mark":{"type":"rule","strokeWidth":0.6},"encoding":{"x2":{"field":"lt"},"y2":{"field":"lv"}}},
{"transform":[{"filter":"datum.k=='l'"}],"mark":{"type":"text","baseline":"bottom"},"encoding":{"x":{"field":"lt","type":"quantitative"},"y":{"field":"lv","type":"quantitative"},"text":{"field":"s"}}},
{"data":{"values":[{}]},"mark":{"type":"rule","strokeDash":[1,1]},"encoding":{"x":{"datum":0},"y":{"datum":0},"y2":{"datum":380}}},
{"data":{"values":[{}]},"mark":{"type":"point","shape":"triangle-right","filled":true,"color":"#0000d0","size":20,"opacity":1},"encoding":{"x":{"datum":0},"y":{"datum":0}}}]},
{"width":249,"height":67.5,"title":"XIC from method  validate.wiff2 (sa...S (200 - 600): 306.178 +/- 0.005 Da",
"data":{"values":[{"k":"b","t":0,"v":100},{"k":"b","t":5,"v":120},{"k":"b","t":10,"v":200},{"k":"b","t":12,"v":500},{"k":"b","t":13,"v":800},{"k":"b","t":14,"v":1500},{"k":"b","t":15,"v":3000},{"k":"b","t":15.5,"v":3500},{"k":"b","t":16,"v":2500},{"k":"b","t":16.5,"v":1500},{"k":"b","t":17,"v":1000},{"k":"b","t":18,"v":400},{"k":"b","t":19,"v":150},
{"k":"s","t":0.941,"v":300},{"k":"s","t":3.37,"v":250},{"k":"s","t":7.974,"v":300},{"k":"s","t":9.032,"v":400},{"k":"s","t":12.096,"v":900},{"k":"s","t":12.905,"v":1200},{"k":"s","t":13.385,"v":2500},{"k":"s","t":14.5,"v":3000},{"k":"s","t":15.0,"v":3800},{"k":"s","t":15.391,"v":4500},{"k":"s","t":15.6,"v":4300},{"k":"s","t":15.9,"v":3800},{"k":"s","t":16.2,"v":2800},
{"k":"l","s":"0.941","t":0.941,"v":300,"lt":1.3,"lv":640},{"k":"l","s":"3.370","t":3.37,"v":250,"lt":3.7,"lv":300},{"k":"l","s":"9.032","t":9.032,"v":400,"lt":11.6,"lv":3220},{"k":"l","s":"12.905","t":12.905,"v":1200,"lt":14.7,"lv":3220},{"k":"l","s":"7.974","t":7.974,"v":300,"lt":8.0,"lv":400},{"k":"l","s":"12.096","t":12.096,"v":900,"lt":12.5,"lv":1216},{"k":"l","s":"13.385","t":13.385,"v":2500,"lt":14.9,"lv":2200},{"k":"l","s":"15.391","t":15.391,"v":4500,"lt":19.3,"lv":2200}]},
"encoding":{"x":{"field":"t","type":"quantitative","scale":{"domain":[-5.18,20.62]},"axis":{"values":[2,4,6,8,10,12,14,16,18],"title":"Time, min"}},"y":{"field":"v","type":"quantitative","scale":{"domain":[-3071,6570]},"axis":{"values":[0,2000,4000],"format":"d","title":null}}},
"layer":[
{"transform":[{"filter":"datum.k=='b'"}],"mark":{"type":"area","color":"#1616e8"},"encoding":{"y2":{"datum":0}}},
{"transform":[{"filter":"datum.k=='s'"}],"mark":{"type":"rule","color":"#3b3bff"},"encoding":{"y2":{"datum":0}}},
{"transform":[{"filter":"datum.k=='l'"}],"mark":{"type":"rule","strokeWidth":0.6},"encoding":{"x2":{"field":"lt"},"y2":{"field":"lv"}}},
{"transform":[{"filter":"datum.k=='l'"}],"mark":{"type":"text","baseline":"bottom"},"encoding":{"x":{"field":"lt","type":"quantitative"},"y":{"field":"lv","type":"quantitative"},"text":{"field":"s"}}},
{"data":{"values":[{}]},"mark":{"type":"rule","strokeDash":[1,1]},"encoding":{"x":{"datum":0},"y":{"datum":0},"y2":{"datum":4700}}},
{"data":{"values":[{}]},"mark":{"type":"point","shape":"triangle-right","filled":true,"color":"#0000d0","size":20,"opacity":1},"encoding":{"x":{"datum":0},"y":{"datum":0}}}]},
{"width":249,"height":67.5,"title":"XIC from method  validate.wiff2 (sa...S (200 - 600): 289.216 +/- 0.005 Da",
"data":{"values":[{"k":"b","t":0,"v":60},{"k":"b","t":5,"v":60},{"k":"b","t":10,"v":80},{"k":"b","t":12,"v":100},{"k":"b","t":13,"v":150},{"k":"b","t":14,"v":300},{"k":"b","t":15,"v":600},{"k":"b","t":15.5,"v":900},{"k":"b","t":16,"v":700},{"k":"b","t":16.5,"v":500},{"k":"b","t":17,"v":300},{"k":"b","t":18,"v":150},{"k":"b","t":19,"v":80},
{"k":"s","t":5.702,"v":100},{"k":"s","t":7.937,"v":100},{"k":"s","t":9.067,"v":150},{"k":"s","t":10.551,"v":150},{"k":"s","t":11.76,"v":200},{"k":"s","t":11.919,"v":200},{"k":"s","t":13.263,"v":250},{"k":"s","t":14.7,"v":500},{"k":"s","t":15.3,"v":1200},{"k":"s","t":15.426,"v":1000},{"k":"s","t":15.485,"v":1780},{"k":"s","t":15.7,"v":1400},{"k":"s","t":15.817,"v":1300},{"k":"s","t":16.0,"v":1100},{"k":"s","t":16.486,"v":600},
{"k":"l","s":"5.702","t":5.702,"v":100,"lt":5.3,"lv":250},{"k":"l","s":"7.937","t":7.937,"v":100,"lt":7.6,"lv":130},{"k":"l","s":"9.067","t":9.067,"v":150,"lt":9.9,"lv":1380},{"k":"l","s":"11.919","t":11.919,"v":200,"lt":13.2,"lv":1380},{"k":"l","s":"10.551","t":10.551,"v":150,"lt":11.1,"lv":175},{"k":"l","s":"13.263","t":13.263,"v":250,"lt":14.3,"lv":175},{"k":"l","s":"11.760","t":11.76,"v":200,"lt":10.7,"lv":750},{"k":"l","s":"15.426","t":15.426,"v":1000,"lt":14.1,"lv":750},{"k":"l","s":"15.485","t":15.485,"v":1780,"lt":16.3,"lv":1810},{"k":"l","s":"15.817","t":15.817,"v":1300,"lt":18.6,"lv":1240},{"k":"l","s":"16.486","t":16.486,"v":600,"lt":18.9,"lv":390}]},
"encoding":{"x":{"field":"t","type":"quantitative","scale":{"domain":[-5.18,20.62]},"axis":{"values":[2,4,6,8,10,12,14,16,18],"title":"Time, min"}},"y":{"field":"v","type":"quantitative","scale":{"domain":[-1528,3270]},"axis":{"values":[0,1000,2000],"format":"d","title":null}}},
"layer":[
{"transform":[{"filter":"datum.k=='b'"}],"mark":{"type":"area","color":"#1616e8"},"encoding":{"y2":{"datum":0}}},
{"transform":[{"filter":"datum.k=='s'"}],"mark":{"type":"rule","color":"#3b3bff"},"encoding":{"y2":{"datum":0}}},
{"transform":[{"filter":"datum.k=='l'"}],"mark":{"type":"rule","strokeWidth":0.6},"encoding":{"x2":{"field":"lt"},"y2":{"field":"lv"}}},
{"transform":[{"filter":"datum.k=='l'"}],"mark":{"type":"text","baseline":"bottom"},"encoding":{"x":{"field":"lt","type":"quantitative"},"y":{"field":"lv","type":"quantitative"},"text":{"field":"s"}}},
{"data":{"values":[{}]},"mark":{"type":"rule","strokeDash":[1,1]},"encoding":{"x":{"datum":0},"y":{"datum":0},"y2":{"datum":2100}}},
{"data":{"values":[{}]},"mark":{"type":"point","shape":"triangle-right","filled":true,"color":"#0000d0","size":20,"opacity":1},"encoding":{"x":{"datum":0},"y":{"datum":0}}}]}
],"spacing":3,"bounds":"flush"},
{"hconcat":[
{"width":249,"height":67.5,"title":"XIC from method  validate.wiff2 (sa...S (200 - 600): 505.205 +/- 0.005 Da","view":{"stroke":"#c8252b","strokeWidth":2,"cornerRadius":8},
"data":{"values":[{"k":"b","t":0,"v":200},{"k":"b","t":0.85,"v":200},{"k":"b","t":0.9,"v":5200},{"k":"b","t":0.95,"v":200},{"k":"b","t":6.7,"v":200},{"k":"b","t":6.8,"v":600},{"k":"b","t":6.95,"v":200},{"k":"b","t":13.0,"v":200},{"k":"b","t":13.08,"v":10400},{"k":"b","t":13.15,"v":8000},{"k":"b","t":13.25,"v":1500},{"k":"b","t":13.4,"v":300},{"k":"b","t":14,"v":300},{"k":"b","t":16,"v":400},{"k":"b","t":18,"v":300},{"k":"b","t":19,"v":200},
{"k":"l","s":"0.897","t":0.897,"v":5200,"lt":2.0,"lv":7480},{"k":"l","s":"6.814","t":6.814,"v":600,"lt":6.72,"lv":900},{"k":"l","s":"13.127","t":13.127,"v":10400,"lt":14.4,"lv":6320}]},
"encoding":{"x":{"field":"t","type":"quantitative","scale":{"domain":[-5.18,20.62]},"axis":{"values":[2,4,6,8,10,12,14,16,18],"title":"Time, min"}},"y":{"field":"v","type":"quantitative","scale":{"domain":[-7525,16100]},"axis":{"values":[0,5000],"format":"d","title":null}}},
"layer":[
{"transform":[{"filter":"datum.k=='b'"}],"mark":{"type":"area","color":"#1616e8"},"encoding":{"y2":{"datum":0}}},
{"transform":[{"filter":"datum.k=='l'"}],"mark":{"type":"rule","strokeWidth":0.6},"encoding":{"x2":{"field":"lt"},"y2":{"field":"lv"}}},
{"transform":[{"filter":"datum.k=='l'"}],"mark":{"type":"text","baseline":"bottom"},"encoding":{"x":{"field":"lt","type":"quantitative"},"y":{"field":"lv","type":"quantitative"},"text":{"field":"s"}}},
{"data":{"values":[{}]},"mark":{"type":"rule","strokeDash":[1,1]},"encoding":{"x":{"datum":0},"y":{"datum":0},"y2":{"datum":10500}}},
{"data":{"values":[{}]},"mark":{"type":"point","shape":"triangle-right","filled":true,"color":"#0000d0","size":20,"opacity":1},"encoding":{"x":{"datum":0},"y":{"datum":0}}}]},
{"width":249,"height":67.5,"title":"XIC from method  validate.wiff2 (sa...S (200 - 600): 303.232 +/- 0.005 Da",
"data":{"values":[{"k":"b","t":0,"v":150},{"k":"b","t":5,"v":150},{"k":"b","t":10,"v":180},{"k":"b","t":13,"v":200},{"k":"b","t":14.5,"v":400},{"k":"b","t":15.5,"v":1500},{"k":"b","t":16,"v":3500},{"k":"b","t":16.2,"v":7000},{"k":"b","t":16.4,"v":5000},{"k":"b","t":16.7,"v":2000},{"k":"b","t":17,"v":800},{"k":"b","t":18,"v":300},{"k":"b","t":19,"v":150},
{"k":"s","t":16.1,"v":6000},{"k":"s","t":16.216,"v":7100},{"k":"s","t":16.359,"v":5500},{"k":"s","t":16.142,"v":6500},
{"k":"l","s":"16.216","t":16.216,"v":7100,"lt":18.0,"lv":8750},{"k":"l","s":"16.359","t":16.359,"v":5000,"lt":15.6,"lv":1610},{"k":"l","s":"16.142","t":16.142,"v":6000,"lt":18.0,"lv":3750}]},
"encoding":{"x":{"field":"t","type":"quantitative","scale":{"domain":[-5.18,20.62]},"axis":{"values":[2,4,6,8,10,12,14,16,18],"title":"Time, min"}},"y":{"field":"v","type":"quantitative","scale":{"domain":[-7665,16400]},"axis":{"values":[0,5000,10000],"format":"d","title":null}}},
"layer":[
{"transform":[{"filter":"datum.k=='b'"}],"mark":{"type":"area","color":"#1616e8"},"encoding":{"y2":{"datum":0}}},
{"transform":[{"filter":"datum.k=='s'"}],"mark":{"type":"rule","color":"#3b3bff"},"encoding":{"y2":{"datum":0}}},
{"transform":[{"filter":"datum.k=='l'"}],"mark":{"type":"rule","strokeWidth":0.6},"encoding":{"x2":{"field":"lt"},"y2":{"field":"lv"}}},
{"transform":[{"filter":"datum.k=='l'"}],"mark":{"type":"text","baseline":"bottom"},"encoding":{"x":{"field":"lt","type":"quantitative"},"y":{"field":"lv","type":"quantitative"},"text":{"field":"s"}}},
{"data":{"values":[{}]},"mark":{"type":"rule","strokeDash":[1,1]},"encoding":{"x":{"datum":0},"y":{"datum":0},"y2":{"datum":10500}}},
{"data":{"values":[{}]},"mark":{"type":"point","shape":"triangle-right","filled":true,"color":"#0000d0","size":20,"opacity":1},"encoding":{"x":{"datum":0},"y":{"datum":0}}}]},
{"width":249,"height":67.5,"title":"XIC from method  validate.wiff2 (sa...S (200 - 600): 535.216 +/- 0.005 Da",
"data":{"values":[{"k":"b","t":0,"v":60},{"k":"b","t":5,"v":60},{"k":"b","t":10,"v":70},{"k":"b","t":13,"v":100},{"k":"b","t":14,"v":150},{"k":"b","t":15,"v":200},{"k":"b","t":16,"v":150},{"k":"b","t":17,"v":100},{"k":"b","t":19,"v":60},
{"k":"s","t":0.897,"v":120},{"k":"s","t":3.114,"v":100},{"k":"s","t":5.756,"v":100},{"k":"s","t":7.29,"v":80},{"k":"s","t":8.41,"v":120},{"k":"s","t":9.609,"v":100},{"k":"s","t":11.525,"v":150},{"k":"s","t":14.953,"v":300},{"k":"s","t":15.037,"v":480},{"k":"s","t":15.125,"v":430},{"k":"s","t":15.3,"v":350},{"k":"s","t":15.6,"v":250},{"k":"s","t":16.0,"v":200},
{"k":"l","s":"0.897","t":0.897,"v":120,"lt":4.5,"lv":160},{"k":"l","s":"3.114","t":3.114,"v":100,"lt":6.7,"lv":330},{"k":"l","s":"5.756","t":5.756,"v":100,"lt":7.6,"lv":146},{"k":"l","s":"8.410","t":8.41,"v":120,"lt":10.3,"lv":330},{"k":"l","s":"9.609","t":9.609,"v":100,"lt":11.3,"lv":146},{"k":"l","s":"7.290","t":7.29,"v":80,"lt":10.0,"lv":60},{"k":"l","s":"11.525","t":11.525,"v":150,"lt":12.7,"lv":250},{"k":"l","s":"14.953","t":14.953,"v":300,"lt":15.2,"lv":175},{"k":"l","s":"15.037","t":15.037,"v":480,"lt":15.2,"lv":393},{"k":"l","s":"15.125","t":15.125,"v":430,"lt":17.4,"lv":300}]},
"encoding":{"x":{"field":"t","type":"quantitative","scale":{"domain":[-5.18,20.62]},"axis":{"values":[2,4,6,8,10,12,14,16,18],"title":"Time, min"}},"y":{"field":"v","type":"quantitative","scale":{"domain":[-331,708]},"axis":{"values":[0,200,400],"format":"d","title":null}}},
"layer":[
{"transform":[{"filter":"datum.k=='b'"}],"mark":{"type":"area","color":"#1616e8"},"encoding":{"y2":{"datum":0}}},
{"transform":[{"filter":"datum.k=='s'"}],"mark":{"type":"rule","color":"#3b3bff"},"encoding":{"y2":{"datum":0}}},
{"transform":[{"filter":"datum.k=='l'"}],"mark":{"type":"rule","strokeWidth":0.6},"encoding":{"x2":{"field":"lt"},"y2":{"field":"lv"}}},
{"transform":[{"filter":"datum.k=='l'"}],"mark":{"type":"text","baseline":"bottom"},"encoding":{"x":{"field":"lt","type":"quantitative"},"y":{"field":"lv","type":"quantitative"},"text":{"field":"s"}}},
{"data":{"values":[{}]},"mark":{"type":"rule","strokeDash":[1,1]},"encoding":{"x":{"datum":0},"y":{"datum":0},"y2":{"datum":500}}},
{"data":{"values":[{}]},"mark":{"type":"point","shape":"triangle-right","filled":true,"color":"#0000d0","size":20,"opacity":1},"encoding":{"x":{"datum":0},"y":{"datum":0}}}]}
],"spacing":3,"bounds":"flush"},
{"hconcat":[
{"width":376,"height":67.5,"title":"XIC from method  validate.wiff2 (sample 66) - YP0.1-10...iment 1, +IDA TOF MS (200 - 600): 460.201 +/- 0.005 Da",
"data":{"values":[{"k":"b","t":0,"v":40},{"k":"b","t":1,"v":40},{"k":"b","t":3,"v":40},{"k":"b","t":5,"v":40},{"k":"b","t":8,"v":45},{"k":"b","t":10,"v":50},{"k":"b","t":11.5,"v":70},{"k":"b","t":12.5,"v":80},{"k":"b","t":13,"v":90},{"k":"b","t":13.5,"v":100},{"k":"b","t":14,"v":110},{"k":"b","t":14.4,"v":120},{"k":"b","t":15.0,"v":130},{"k":"b","t":15.25,"v":150},{"k":"b","t":15.3,"v":0},{"k":"b","t":16.2,"v":0},{"k":"b","t":16.3,"v":150},{"k":"b","t":17,"v":120},{"k":"b","t":17.5,"v":100},{"k":"b","t":18,"v":60},{"k":"b","t":19,"v":50},
{"k":"s","t":0.903,"v":110},{"k":"s","t":1.617,"v":70},{"k":"s","t":4.972,"v":50},{"k":"s","t":7.143,"v":70},{"k":"s","t":7.961,"v":150},{"k":"s","t":9.155,"v":70},{"k":"s","t":11.58,"v":70},{"k":"s","t":12.926,"v":100},{"k":"s","t":13.3,"v":110},{"k":"s","t":13.9,"v":120},{"k":"s","t":14.2,"v":140},{"k":"s","t":14.9,"v":150},{"k":"s","t":15.16,"v":185},{"k":"s","t":16.5,"v":150},{"k":"s","t":16.8,"v":170},{"k":"s","t":17.0,"v":200},{"k":"s","t":17.23,"v":250},{"k":"s","t":17.345,"v":335},{"k":"s","t":17.5,"v":130},{"k":"s","t":18.014,"v":70},
{"k":"l","s":"1.617","t":1.617,"v":70,"lt":1.56,"lv":220},{"k":"l","s":"0.903","t":0.903,"v":110,"lt":0.58,"lv":120},{"k":"l","s":"1.502","t":1.502,"v":40,"lt":2.24,"lv":109},{"k":"l","s":"4.972","t":4.972,"v":40,"lt":4.1,"lv":165},{"k":"l","s":"3.571","t":3.571,"v":40,"lt":3.28,"lv":65},{"k":"l","s":"5.048","t":5.048,"v":50,"lt":5.3,"lv":220},{"k":"l","s":"5.813","t":5.813,"v":40,"lt":5.64,"lv":65},{"k":"l","s":"7.681","t":7.681,"v":60,"lt":6.45,"lv":190},{"k":"l","s":"7.143","t":7.143,"v":70,"lt":7.55,"lv":245},{"k":"l","s":"7.961","t":7.961,"v":150,"lt":7.75,"lv":142},{"k":"l","s":"9.155","t":9.155,"v":70,"lt":9.13,"lv":231},{"k":"l","s":"11.580","t":11.58,"v":60,"lt":10.7,"lv":120},{"k":"l","s":"12.926","t":12.926,"v":100,"lt":12.86,"lv":231},{"k":"l","s":"13.093","t":13.093,"v":80,"lt":12.1,"lv":120},{"k":"l","s":"13.662","t":13.662,"v":100,"lt":13.7,"lv":120},{"k":"l","s":"15.160","t":15.16,"v":185,"lt":15.15,"lv":194},{"k":"l","s":"17.345","t":17.345,"v":335,"lt":16.5,"lv":294},{"k":"l","s":"17.230","t":17.23,"v":250,"lt":18.05,"lv":209},{"k":"l","s":"18.014","t":18.014,"v":60,"lt":18.36,"lv":109}]},
"encoding":{"x":{"field":"t","type":"quantitative","scale":{"domain":[-3.24,20.17]},"axis":{"values":[1,2,3,4,5,6,7,8,9,10,11,12,13,14,15,16,17,18],"title":"Time, min","offset":-22.5}},"y":{"field":"v","type":"quantitative","scale":{"domain":[-250,500]},"axis":{"values":[0,100,200,300],"format":"d","title":null,"offset":-52}}},
"layer":[
{"transform":[{"filter":"datum.k=='b'"}],"mark":{"type":"area","color":"#1616e8"},"encoding":{"y2":{"datum":0}}},
{"transform":[{"filter":"datum.k=='s'"}],"mark":{"type":"rule","color":"#3b3bff"},"encoding":{"y2":{"datum":0}}},
{"transform":[{"filter":"datum.k=='l'"}],"mark":{"type":"rule","strokeWidth":0.6},"encoding":{"x2":{"field":"lt"},"y2":{"field":"lv"}}},
{"transform":[{"filter":"datum.k=='l'"}],"mark":{"type":"text","baseline":"bottom"},"encoding":{"x":{"field":"lt","type":"quantitative"},"y":{"field":"lv","type":"quantitative"},"text":{"field":"s"}}},
{"data":{"values":[{}]},"mark":{"type":"rule","strokeDash":[1,1]},"encoding":{"x":{"datum":0},"y":{"datum":0},"y2":{"datum":340}}},
{"data":{"values":[{}]},"mark":{"type":"point","shape":"triangle-right","filled":true,"color":"#0000d0","size":20,"opacity":1},"encoding":{"x":{"datum":0},"y":{"datum":0}}}]},
{"width":376,"height":67.5,"title":"XIC from method  validate.wiff2 (sample 66) - YP0.1-1...iment 1, +IDA TOF MS (200 - 600): 345.242 +/- 0.005 Da",
"data":{"values":[{"k":"b","t":0,"v":400},{"k":"b","t":5,"v":400},{"k":"b","t":10,"v":450},{"k":"b","t":13,"v":500},{"k":"b","t":14,"v":800},{"k":"b","t":14.5,"v":1500},{"k":"b","t":15,"v":3000},{"k":"b","t":15.3,"v":4000},{"k":"b","t":15.5,"v":2500},{"k":"b","t":15.7,"v":3500},{"k":"b","t":16,"v":2000},{"k":"b","t":16.2,"v":4500},{"k":"b","t":16.3,"v":10800},{"k":"b","t":16.4,"v":8000},{"k":"b","t":16.6,"v":6000},{"k":"b","t":16.8,"v":4500},{"k":"b","t":17,"v":4000},{"k":"b","t":17.3,"v":3500},{"k":"b","t":17.5,"v":2500},{"k":"b","t":17.8,"v":800},{"k":"b","t":18,"v":300},{"k":"b","t":19,"v":250},
{"k":"l","s":"14.911","t":14.911,"v":2500,"lt":13.5,"lv":4360},{"k":"l","s":"15.371","t":15.371,"v":4000,"lt":14.7,"lv":4970},{"k":"l","s":"16.750","t":16.75,"v":5000,"lt":15.75,"lv":8170},{"k":"l","s":"16.286","t":16.286,"v":10800,"lt":17.2,"lv":6700},{"k":"l","s":"17.167","t":17.167,"v":3000,"lt":18.1,"lv":3740}]},
"encoding":{"x":{"field":"t","type":"quantitative","scale":{"domain":[-2.95,20.26]},"axis":{"values":[1,2,3,4,5,6,7,8,9,10,11,12,13,14,15,16,17,18],"title":"Time, min","offset":-22.5}},"y":{"field":"v","type":"quantitative","scale":{"domain":[-8325,16650]},"axis":{"values":[0,5000,10000],"format":"d","title":null,"offset":-48}}},
"layer":[
{"transform":[{"filter":"datum.k=='b'"}],"mark":{"type":"area","color":"#4646f5"},"encoding":{"y2":{"datum":0}}},
{"transform":[{"filter":"datum.k=='l'"}],"mark":{"type":"rule","strokeWidth":0.6},"encoding":{"x2":{"field":"lt"},"y2":{"field":"lv"}}},
{"transform":[{"filter":"datum.k=='l'"}],"mark":{"type":"text","baseline":"bottom"},"encoding":{"x":{"field":"lt","type":"quantitative"},"y":{"field":"lv","type":"quantitative"},"text":{"field":"s"}}},
{"data":{"values":[{}]},"mark":{"type":"rule","strokeDash":[1,1]},"encoding":{"x":{"datum":0},"y":{"datum":0},"y2":{"datum":11000}}},
{"data":{"values":[{}]},"mark":{"type":"point","shape":"triangle-right","filled":true,"color":"#0000d0","size":20,"opacity":1},"encoding":{"x":{"datum":0},"y":{"datum":0}}}]}
],"spacing":3,"bounds":"flush"}
]}
